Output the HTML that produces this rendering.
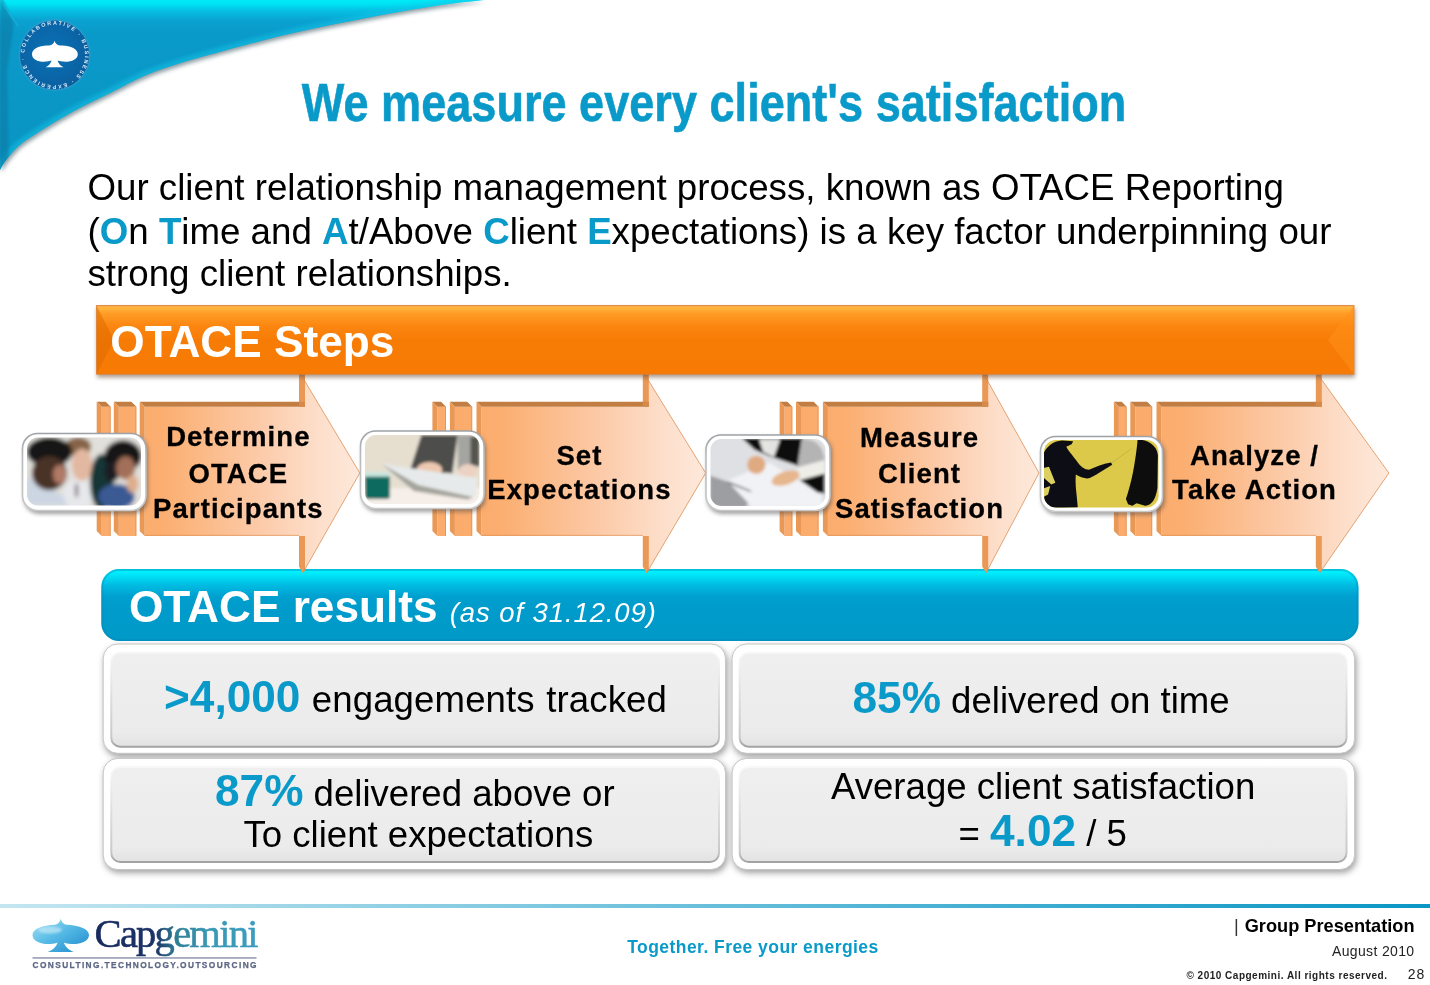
<!DOCTYPE html>
<html lang="en">
<head>
<meta charset="utf-8">
<title>We measure every client's satisfaction</title>
<style>
html,body{margin:0;padding:0;background:#fff;}
body{width:1430px;height:985px;overflow:hidden;position:relative;font-family:"Liberation Sans",sans-serif;color:#000;}
#slide{position:absolute;left:0;top:0;width:1430px;height:985px;overflow:hidden;background:#fff;}
#bg{position:absolute;left:0;top:0;}
.t{position:absolute;white-space:nowrap;line-height:1;}
.blue{color:#0a9ac9;font-weight:bold;}
#title{left:-1px;width:1430px;top:75px;text-align:center;font-size:54px;font-weight:bold;color:#0a9ac9;-webkit-text-stroke:.6px #0a9ac9;transform:scaleX(.8352);transform-origin:715px 0;}
.para{left:87.5px;font-size:36.7px;}
#steps{left:110.3px;top:320.1px;font-size:44.2px;font-weight:bold;color:#fff;}
.sl{-webkit-text-stroke:.3px #000;position:absolute;width:300px;margin-left:-150px;text-align:center;font-weight:bold;font-size:27.5px;line-height:1;letter-spacing:1.1px;padding-left:1.1px;white-space:nowrap;box-sizing:border-box;}
#res{left:129px;top:585px;font-size:44.2px;font-weight:bold;color:#fff;}
#resd{left:449.8px;top:599.3px;font-size:27.5px;font-style:italic;color:#fff;letter-spacing:.9px;}
.bx{position:absolute;font-size:36.6px;line-height:1;white-space:nowrap;}
.bx b{color:#0a9ac9;font-size:44.2px;}
</style>
</head>
<body>
<div id="slide">
<svg id="bg" width="1430" height="985" viewBox="0 0 1430 985">
<defs>
<linearGradient id="gSw" gradientUnits="userSpaceOnUse" x1="0" y1="0" x2="0" y2="170">
<stop offset="0" stop-color="#00eaf8"/><stop offset=".025" stop-color="#00e2f4"/><stop offset=".06" stop-color="#06c2e4"/><stop offset=".12" stop-color="#0aa2d0"/><stop offset=".2" stop-color="#0a9aca"/><stop offset="1" stop-color="#0a94c2"/>
</linearGradient>
<linearGradient id="gOr" x1="0" y1="0" x2="0" y2="1">
<stop offset="0" stop-color="#f6a24a"/><stop offset=".03" stop-color="#ffb640"/><stop offset=".12" stop-color="#ff9c26"/><stop offset=".3" stop-color="#fb8610"/><stop offset=".5" stop-color="#f77c06"/><stop offset="1" stop-color="#f67a04"/>
</linearGradient>
<linearGradient id="gAr" x1="0" y1="0" x2="1" y2="0">
<stop offset="0" stop-color="#f9a868"/><stop offset="1" stop-color="#fee6d4"/>
</linearGradient>
<linearGradient id="gBl" x1="0" y1="0" x2="0" y2="1">
<stop offset="0" stop-color="#00dff2"/><stop offset=".04" stop-color="#00f0ff"/><stop offset=".1" stop-color="#00e0f6"/><stop offset=".22" stop-color="#00bde2"/><stop offset=".38" stop-color="#00a0d0"/><stop offset=".5" stop-color="#009ccb"/><stop offset="1" stop-color="#0099c8"/>
</linearGradient>
<linearGradient id="gLine" x1="0" y1="0" x2="1" y2="0">
<stop offset="0" stop-color="#c4e6f1"/><stop offset="1" stop-color="#0a96c4"/>
</linearGradient>
<filter id="sh" x="-5%" y="-20%" width="110%" height="150%"><feGaussianBlur stdDeviation="2.5"/></filter>
<filter id="bl4"><feGaussianBlur stdDeviation="4"/></filter>
<filter id="bl1"><feGaussianBlur stdDeviation="1"/></filter>
<filter id="bl3" x="-5%" y="-20%" width="110%" height="150%"><feGaussianBlur stdDeviation="3"/></filter>
<filter id="bl2"><feGaussianBlur stdDeviation="2"/></filter>

<linearGradient id="gBox" x1="0" y1="0" x2="0" y2="1"><stop offset="0" stop-color="#efefef"/><stop offset=".85" stop-color="#ebebeb"/><stop offset="1" stop-color="#e2e2e2"/></linearGradient>
<radialGradient id="gEm" cx=".45" cy=".45" r=".62"><stop offset="0" stop-color="#0a72b4"/><stop offset=".6" stop-color="#0a66a8"/><stop offset=".9" stop-color="#0c5e9e"/><stop offset="1" stop-color="#2a88bc"/></radialGradient>
<linearGradient id="gSp" x1="0" y1="0" x2="1" y2="1"><stop offset="0" stop-color="#a8e0f4"/><stop offset=".45" stop-color="#58bce6"/><stop offset="1" stop-color="#1c88cc"/></linearGradient>
<linearGradient id="gCap" gradientUnits="userSpaceOnUse" x1="94" y1="0" x2="258" y2="0"><stop offset="0" stop-color="#172a5e"/><stop offset=".38" stop-color="#1c3468"/><stop offset=".5" stop-color="#2e7e96"/><stop offset=".7" stop-color="#3a98b4"/><stop offset="1" stop-color="#3a9cc0"/></linearGradient>
<filter id="blp" x="-5%" y="-5%" width="110%" height="110%"><feGaussianBlur stdDeviation="20"/></filter>
<filter id="blr" x="-5%" y="-5%" width="110%" height="110%"><feGaussianBlur stdDeviation="13"/></filter>
<filter id="blq" x="-5%" y="-5%" width="110%" height="110%"><feGaussianBlur stdDeviation="5"/></filter>
<linearGradient id="gBoxS" x1="0" y1="0" x2="0" y2="1"><stop offset="0" stop-color="#f8f8f8"/><stop offset=".5" stop-color="#dcdcdc"/><stop offset=".9" stop-color="#c8c8c8"/><stop offset="1" stop-color="#a2a2a2"/></linearGradient>
<linearGradient id="gPh" x1="0" y1="0" x2="0" y2="1"><stop offset="0" stop-color="#9ea2a6"/><stop offset=".3" stop-color="#b8babc"/><stop offset="1" stop-color="#c8c8c8"/></linearGradient>
</defs>

<!-- top-left swoosh -->
<path d="M0,170 C0.9,168.5 2.4,164.8 5.5,160.8 C8.6,156.8 13.1,150.8 18.3,146.2 C23.5,141.6 27.4,139.2 36.5,133.4 C45.6,127.6 60.8,118.2 73,111.5 C85.2,104.8 96.8,99.5 109.6,93.2 C122.4,86.9 133.3,80.0 150,73.5 C166.7,67.0 185.0,61.5 210,54.5 C235.0,47.5 270.0,38.3 300,31.5 C330.0,24.7 365.8,18.0 390,13.5 C414.2,9.0 429.3,6.8 445,4.5 C460.7,2.2 477.5,0.8 484,0 H0 Z" fill="#3c5864" opacity=".6" filter="url(#bl2)" transform="translate(1.5,2.5)"/>
<clipPath id="cpSw"><path d="M0,170 C0.9,168.5 2.4,164.8 5.5,160.8 C8.6,156.8 13.1,150.8 18.3,146.2 C23.5,141.6 27.4,139.2 36.5,133.4 C45.6,127.6 60.8,118.2 73,111.5 C85.2,104.8 96.8,99.5 109.6,93.2 C122.4,86.9 133.3,80.0 150,73.5 C166.7,67.0 185.0,61.5 210,54.5 C235.0,47.5 270.0,38.3 300,31.5 C330.0,24.7 365.8,18.0 390,13.5 C414.2,9.0 429.3,6.8 445,4.5 C460.7,2.2 477.5,0.8 484,0 H0 Z"/></clipPath>
<path d="M0,170 C0.9,168.5 2.4,164.8 5.5,160.8 C8.6,156.8 13.1,150.8 18.3,146.2 C23.5,141.6 27.4,139.2 36.5,133.4 C45.6,127.6 60.8,118.2 73,111.5 C85.2,104.8 96.8,99.5 109.6,93.2 C122.4,86.9 133.3,80.0 150,73.5 C166.7,67.0 185.0,61.5 210,54.5 C235.0,47.5 270.0,38.3 300,31.5 C330.0,24.7 365.8,18.0 390,13.5 C414.2,9.0 429.3,6.8 445,4.5 C460.7,2.2 477.5,0.8 484,0 H0 Z" fill="url(#gSw)"/>
<g clip-path="url(#cpSw)">
<path d="M0,170 C0.9,168.5 2.4,164.8 5.5,160.8 C8.6,156.8 13.1,150.8 18.3,146.2 C23.5,141.6 27.4,139.2 36.5,133.4 C45.6,127.6 60.8,118.2 73,111.5 C85.2,104.8 96.8,99.5 109.6,93.2 C122.4,86.9 133.3,80.0 150,73.5 C166.7,67.0 185.0,61.5 210,54.5 C235.0,47.5 270.0,38.3 300,31.5 C330.0,24.7 365.8,18.0 390,13.5 C414.2,9.0 429.3,6.8 445,4.5 C460.7,2.2 477.5,0.8 484,0" fill="none" stroke="#14c4e6" stroke-width="9" opacity=".55" filter="url(#bl2)"/>
<path d="M0,0 L3,0 L14,24 L7,70 L9,180 L0,180 Z" fill="#0a7aa4" opacity=".6" filter="url(#bl1)"/>
<path d="M0,0 L18,26" stroke="#26b4d8" stroke-width="1.2" opacity=".7"/>
</g>


<!-- blue results bar -->
<rect x="101.3" y="569" width="1257.2" height="72" rx="18" fill="url(#gBl)"/>
<rect x="102.3" y="570" width="1255.2" height="70" rx="17" fill="none" stroke="#0a86b4" stroke-width="2" opacity=".35"/>

<!--ARROWS-START-->
<g id="arrows">
<linearGradient id="ga0" gradientUnits="userSpaceOnUse" x1="96.7" y1="0" x2="359.8" y2="0"><stop offset="0" stop-color="#fbab6b"/><stop offset=".25" stop-color="#fbae70"/><stop offset=".6" stop-color="#fcc9a6"/><stop offset=".85" stop-color="#fddfcb"/><stop offset="1" stop-color="#fee9db"/></linearGradient>
<g><path d="M101.7,406.7 H110.7 V536 H101.7 Z" fill="url(#ga0)"/><path d="M96.7,401.7 H105.7 L110.7,406.7 H101.7 Z" fill="#c27e42"/><path d="M96.7,401.7 L101.7,406.7 V536 L96.7,531 Z" fill="#ea9856"/><rect x="109.7" y="406.7" width="1" height="129.3" fill="#d98a4e" opacity=".6"/><path d="M118.8,406.7 H136.4 V536 H118.8 Z" fill="url(#ga0)"/><path d="M113.8,401.7 H131.4 L136.4,406.7 H118.8 Z" fill="#c27e42"/><path d="M113.8,401.7 L118.8,406.7 V536 L113.8,531 Z" fill="#ea9856"/><rect x="135.4" y="406.7" width="1" height="129.3" fill="#d98a4e" opacity=".6"/><path d="M144.7,406.7 H304 V373 H300 L359.8,473.0 L302.8,573 L304,571 V536 H144.7 Z" fill="url(#ga0)"/><path d="M139.7,401.7 H305 V406.7 H144.7 Z" fill="#c27e42"/><path d="M139.7,401.7 L144.7,406.7 V536 L139.7,531 Z" fill="#ea9856"/><path d="M299,373 H305 V406.7 H299 Z" fill="#ea9856"/><path d="M299,401.7 H305 V406.7 H299 Z" fill="#c27e42" opacity=".55"/><path d="M299,536 H305 V570 L302.8,573 L299,566.5 Z" fill="#ea9856"/><rect x="144.7" y="534.8" width="154.3" height="1.2" fill="#d98a4e" opacity=".5"/><path d="M300,373 L359.8,473.0 L302.8,573" fill="none" stroke="#d98a4e" stroke-width="1" opacity=".75"/></g>
<linearGradient id="ga1" gradientUnits="userSpaceOnUse" x1="432.4" y1="0" x2="705.7" y2="0"><stop offset="0" stop-color="#fbab6b"/><stop offset=".25" stop-color="#fbae70"/><stop offset=".6" stop-color="#fcc9a6"/><stop offset=".85" stop-color="#fddfcb"/><stop offset="1" stop-color="#fee9db"/></linearGradient>
<g><path d="M437.4,406.7 H446 V536 H437.4 Z" fill="url(#ga1)"/><path d="M432.4,401.7 H441 L446,406.7 H437.4 Z" fill="#c27e42"/><path d="M432.4,401.7 L437.4,406.7 V536 L432.4,531 Z" fill="#ea9856"/><rect x="445.0" y="406.7" width="1" height="129.3" fill="#d98a4e" opacity=".6"/><path d="M454.9,406.7 H472.2 V536 H454.9 Z" fill="url(#ga1)"/><path d="M449.9,401.7 H467.2 L472.2,406.7 H454.9 Z" fill="#c27e42"/><path d="M449.9,401.7 L454.9,406.7 V536 L449.9,531 Z" fill="#ea9856"/><rect x="471.2" y="406.7" width="1" height="129.3" fill="#d98a4e" opacity=".6"/><path d="M481.5,406.7 H647.8 V373 H643.8 L705.7,473.0 L646.5999999999999,573 L647.8,571 V536 H481.5 Z" fill="url(#ga1)"/><path d="M476.5,401.7 H648.8 V406.7 H481.5 Z" fill="#c27e42"/><path d="M476.5,401.7 L481.5,406.7 V536 L476.5,531 Z" fill="#ea9856"/><path d="M642.8,373 H648.8 V406.7 H642.8 Z" fill="#ea9856"/><path d="M642.8,401.7 H648.8 V406.7 H642.8 Z" fill="#c27e42" opacity=".55"/><path d="M642.8,536 H648.8 V570 L646.5999999999999,573 L642.8,566.5 Z" fill="#ea9856"/><rect x="481.5" y="534.8" width="161.3" height="1.2" fill="#d98a4e" opacity=".5"/><path d="M643.8,373 L705.7,473.0 L646.5999999999999,573" fill="none" stroke="#d98a4e" stroke-width="1" opacity=".75"/></g>
<linearGradient id="ga2" gradientUnits="userSpaceOnUse" x1="779.6" y1="0" x2="1039" y2="0"><stop offset="0" stop-color="#fbab6b"/><stop offset=".25" stop-color="#fbae70"/><stop offset=".6" stop-color="#fcc9a6"/><stop offset=".85" stop-color="#fddfcb"/><stop offset="1" stop-color="#fee9db"/></linearGradient>
<g><path d="M784.6,406.7 H792.4 V536 H784.6 Z" fill="url(#ga2)"/><path d="M779.6,401.7 H787.4 L792.4,406.7 H784.6 Z" fill="#c27e42"/><path d="M779.6,401.7 L784.6,406.7 V536 L779.6,531 Z" fill="#ea9856"/><rect x="791.4" y="406.7" width="1" height="129.3" fill="#d98a4e" opacity=".6"/><path d="M801,406.7 H818.6 V536 H801 Z" fill="url(#ga2)"/><path d="M796,401.7 H813.6 L818.6,406.7 H801 Z" fill="#c27e42"/><path d="M796,401.7 L801,406.7 V536 L796,531 Z" fill="#ea9856"/><rect x="817.6" y="406.7" width="1" height="129.3" fill="#d98a4e" opacity=".6"/><path d="M827.9,406.7 H987.2 V373 H983.2 L1039,473.0 L986.0,573 L987.2,571 V536 H827.9 Z" fill="url(#ga2)"/><path d="M822.9,401.7 H988.2 V406.7 H827.9 Z" fill="#c27e42"/><path d="M822.9,401.7 L827.9,406.7 V536 L822.9,531 Z" fill="#ea9856"/><path d="M982.2,373 H988.2 V406.7 H982.2 Z" fill="#ea9856"/><path d="M982.2,401.7 H988.2 V406.7 H982.2 Z" fill="#c27e42" opacity=".55"/><path d="M982.2,536 H988.2 V570 L986.0,573 L982.2,566.5 Z" fill="#ea9856"/><rect x="827.9" y="534.8" width="154.3" height="1.2" fill="#d98a4e" opacity=".5"/><path d="M983.2,373 L1039,473.0 L986.0,573" fill="none" stroke="#d98a4e" stroke-width="1" opacity=".75"/></g>
<linearGradient id="ga3" gradientUnits="userSpaceOnUse" x1="1113.9" y1="0" x2="1388.9" y2="0"><stop offset="0" stop-color="#fbab6b"/><stop offset=".25" stop-color="#fbae70"/><stop offset=".6" stop-color="#fcc9a6"/><stop offset=".85" stop-color="#fddfcb"/><stop offset="1" stop-color="#fee9db"/></linearGradient>
<g><path d="M1118.9,406.7 H1126.7 V536 H1118.9 Z" fill="url(#ga3)"/><path d="M1113.9,401.7 H1121.7 L1126.7,406.7 H1118.9 Z" fill="#c27e42"/><path d="M1113.9,401.7 L1118.9,406.7 V536 L1113.9,531 Z" fill="#ea9856"/><rect x="1125.7" y="406.7" width="1" height="129.3" fill="#d98a4e" opacity=".6"/><path d="M1135.3,406.7 H1152.2 V536 H1135.3 Z" fill="url(#ga3)"/><path d="M1130.3,401.7 H1147.2 L1152.2,406.7 H1135.3 Z" fill="#c27e42"/><path d="M1130.3,401.7 L1135.3,406.7 V536 L1130.3,531 Z" fill="#ea9856"/><rect x="1151.2" y="406.7" width="1" height="129.3" fill="#d98a4e" opacity=".6"/><path d="M1161.5,406.7 H1320.8 V373 H1316.8 L1388.9,473.0 L1319.6,573 L1320.8,571 V536 H1161.5 Z" fill="url(#ga3)"/><path d="M1156.5,401.7 H1321.8 V406.7 H1161.5 Z" fill="#c27e42"/><path d="M1156.5,401.7 L1161.5,406.7 V536 L1156.5,531 Z" fill="#ea9856"/><path d="M1315.8,373 H1321.8 V406.7 H1315.8 Z" fill="#ea9856"/><path d="M1315.8,401.7 H1321.8 V406.7 H1315.8 Z" fill="#c27e42" opacity=".55"/><path d="M1315.8,536 H1321.8 V570 L1319.6,573 L1315.8,566.5 Z" fill="#ea9856"/><rect x="1161.5" y="534.8" width="154.3" height="1.2" fill="#d98a4e" opacity=".5"/><path d="M1316.8,373 L1388.9,473.0 L1319.6,573" fill="none" stroke="#d98a4e" stroke-width="1" opacity=".75"/></g>
</g>
<!--ARROWS-END-->

<!-- orange bar -->
<rect x="97" y="308" width="1258" height="69.5" fill="#6a4a30" opacity=".55" filter="url(#bl2)"/>
<rect x="96.5" y="305.5" width="1257.5" height="68.7" fill="url(#gOr)"/>
<path d="M96.5,305.5 L114,340 L96.5,374.2 Z" fill="#e06c00" opacity=".55"/>
<path d="M1354,305.5 L1328,340 L1354,374.2 Z" fill="#ff9018" opacity=".55"/>
<rect x="96.5" y="305.5" width="1257.5" height="68.7" fill="none" stroke="#d98238" stroke-width="1" opacity=".8"/>



<!-- result boxes -->
<g id="boxes">
<g filter="url(#bl3)" opacity=".5" fill="#444">
<rect x="104.2" y="646.5" width="623.3" height="110.3" rx="15"/>
<rect x="733.1" y="646.5" width="623.5" height="110.3" rx="15"/>
<rect x="104.2" y="760.9" width="623.3" height="112.1" rx="15"/>
<rect x="733.1" y="760.9" width="623.5" height="112.1" rx="15"/>
</g>
<g fill="#fff" stroke="#c6c6c6" stroke-width="1">
<rect x="103.2" y="644.0" width="622.3" height="109.3" rx="14.5"/>
<rect x="732.1" y="644.0" width="622.5" height="109.3" rx="14.5"/>
<rect x="103.2" y="758.4" width="622.3" height="111.1" rx="14.5"/>
<rect x="732.1" y="758.4" width="622.5" height="111.1" rx="14.5"/>
</g>
<g fill="url(#gBox)" stroke="url(#gBoxS)" stroke-width="2">
<rect x="111.3" y="652.6" width="607.7" height="94.1" rx="9"/>
<rect x="739.7" y="652.8" width="606.8" height="93.9" rx="9"/>
<rect x="111.3" y="767.0" width="607.7" height="95.0" rx="9"/>
<rect x="739.7" y="767.0" width="606.8" height="95.0" rx="9"/>
</g>
</g>

<!-- photos -->
<g id="photos">
<!-- photo 1 -->
<rect x="24" y="436" width="124" height="78" rx="15" fill="#444" opacity=".5" filter="url(#bl2)"/>
<rect x="22.5" y="433.5" width="123.5" height="77" rx="15" fill="#fff" stroke="url(#gPh)" stroke-width="1.6"/>
<clipPath id="cp1"><rect x="27" y="437.5" width="114" height="68" rx="11"/></clipPath>
<g clip-path="url(#cp1)"><g transform="translate(10,420) scale(.1066)" filter="url(#blp)">
<rect x="100" y="100" width="1250" height="800" fill="#e2e0dc"/>
<path d="M150,540 L330,600 L620,800 L150,800Z" fill="#ccd6e2"/>
<ellipse cx="640" cy="700" rx="140" ry="140" fill="#e6e8ec"/>
<ellipse cx="860" cy="580" rx="110" ry="260" fill="#163436"/>
<ellipse cx="640" cy="250" rx="120" ry="90" fill="#866446"/>
<ellipse cx="675" cy="420" rx="95" ry="150" fill="#e2b8a0"/>
<ellipse cx="370" cy="300" rx="215" ry="140" fill="#121214"/>
<ellipse cx="370" cy="500" rx="165" ry="160" fill="#4a3028"/>
<ellipse cx="465" cy="510" rx="62" ry="90" fill="#b07a66"/>
<ellipse cx="1060" cy="340" rx="175" ry="150" fill="#151218"/>
<ellipse cx="960" cy="480" rx="70" ry="100" fill="#1a1a20"/>
<ellipse cx="1085" cy="450" rx="90" ry="110" fill="#a27058"/>
<ellipse cx="1000" cy="720" rx="170" ry="120" fill="#3a5a94"/>
<ellipse cx="1150" cy="600" rx="55" ry="85" fill="#deae8c"/>
<ellipse cx="625" cy="660" rx="12" ry="70" fill="#4c2c3a"/>
</g></g>
<!-- photo 2 -->
<rect x="362" y="434" width="124" height="78" rx="15" fill="#444" opacity=".5" filter="url(#bl2)"/>
<rect x="360.5" y="431" width="123.5" height="77.5" rx="15" fill="#fff" stroke="url(#gPh)" stroke-width="1.6"/>
<clipPath id="cp2"><rect x="365" y="435" width="114.5" height="69" rx="11"/></clipPath>
<g clip-path="url(#cp2)"><g transform="translate(350,420) scale(.1066)" filter="url(#blr)">
<rect x="100" y="100" width="1250" height="800" fill="#e6dfd0"/>
<rect x="100" y="640" width="1250" height="260" fill="#f6eee8"/>
<path d="M670,140 H1010 L960,500 L560,480 Z" fill="#4e4e4c"/>
<path d="M1010,140 H1210 V440 L1010,470 Z" fill="#a4a4a0"/>
<path d="M1130,160 H1215 V430 L1130,430 Z" fill="#55554f"/>
<ellipse cx="745" cy="465" rx="120" ry="72" fill="#eec8b0"/>
<ellipse cx="1110" cy="475" rx="92" ry="62" fill="#ecd2c2"/>
<path d="M290,405 L420,430 L1190,545 L1190,715 L800,700 L560,640 Z" fill="#e6eaea"/>
<path d="M295,410 L640,610 L1160,725 L1100,745 L600,665 Z" fill="#a4a49c"/>
<rect x="140" y="505" width="235" height="235" rx="30" fill="#076a5e"/>
<rect x="140" y="490" width="235" height="42" fill="#c9e6de"/>
</g></g>
<!-- photo 3 -->
<rect x="707" y="437" width="125" height="77" rx="15" fill="#444" opacity=".5" filter="url(#bl2)"/>
<rect x="706" y="435" width="124" height="75.5" rx="15" fill="#fff" stroke="url(#gPh)" stroke-width="1.6"/>
<clipPath id="cp3"><rect x="710.5" y="439" width="115" height="67" rx="11"/></clipPath>
<g clip-path="url(#cp3)"><g transform="translate(695,420) scale(.1066)" filter="url(#blr)">
<rect x="100" y="100" width="1250" height="800" fill="#dfe0e3"/>
<path d="M140,520 L540,660 L480,820 L140,820 Z" fill="#9c9ea2"/>
<path d="M300,570 L700,400 L1180,690 L1210,820 L540,820 Z" fill="#f1f2f5"/>
<path d="M440,170 H1010 L1000,440 L700,340 L560,280 Z" fill="#0e0e0e"/>
<path d="M600,180 L800,180 L740,350 L640,300 Z" fill="#e4e4e2"/>
<path d="M1000,180 Q1200,170 1215,380 L1210,520 L980,560 L960,440 Z" fill="#b4b4b4"/>
<path d="M955,445 L1215,375 L1215,500 L985,565 Z" fill="#eeede8"/>
<path d="M985,565 L1215,505 L1215,690 L1150,680 Z" fill="#0c0c0c"/>
<ellipse cx="575" cy="420" rx="85" ry="85" fill="#e0aa80"/>
<ellipse cx="850" cy="545" rx="135" ry="62" fill="#e6b68c" transform="rotate(-18 850 545)"/>
<path d="M310,575 L520,660 L530,680 L300,590 Z" fill="#7c7e82"/>
</g></g>
<!-- photo 4 -->
<rect x="1042" y="439" width="123" height="76" rx="15" fill="#444" opacity=".5" filter="url(#bl2)"/>
<rect x="1040.5" y="436.5" width="122" height="75" rx="15" fill="#fff" stroke="url(#gPh)" stroke-width="1.6"/>
<clipPath id="cp4"><rect x="1044" y="440" width="114.5" height="67.5" rx="12"/></clipPath>
<g clip-path="url(#cp4)"><g transform="translate(1030,420) scale(.1066)">
<rect x="100" y="100" width="1250" height="800" fill="#dcc94a"/>
<g filter="url(#blq)">
<path d="M1010,180 C1100,185 1190,230 1200,330 L1195,640 C1180,730 1150,800 1080,805 L1000,780 L960,805 L920,790 L900,740 C950,600 990,400 1010,180 Z" fill="#0b0a10"/>
<path d="M120,330 C150,250 220,196 300,192 L405,200 L390,228 L340,250 C360,290 400,330 450,400 C480,440 520,470 560,465 C620,440 680,410 760,398 L772,420 C720,450 650,500 560,545 C520,555 470,535 430,512 C420,600 440,700 448,820 L180,830 C140,790 120,750 120,700 Z" fill="#0a0a12"/>
<path d="M125,450 L178,438 L238,588 L200,604 L125,540 Z" fill="#dcd060"/>
<path d="M130,640 L190,620 L170,700 L130,720 Z" fill="#dcd060"/>
<path d="M770,400 L950,270" stroke="#c8b040" stroke-width="8"/>
</g>
</g></g>
</g>

<!-- emblem -->
<g id="emblem">
<circle cx="54.6" cy="55" r="36" fill="#3c9ccc" opacity=".6"/>
<circle cx="54.6" cy="55" r="34.6" fill="url(#gEm)"/>
<path id="emc" d="M54.6,55 m-30.3,0 a30.3,30.3 0 1,1 60.6,0 a30.3,30.3 0 1,1 -60.6,0" fill="none"/>
<text font-family="'Liberation Sans',sans-serif" font-size="5.4" font-weight="bold" fill="#d6ecf8" letter-spacing="1.05"><textPath href="#emc" startOffset="2" textLength="186" lengthAdjust="spacing">COLLABORATIVE · BUSINESS · EXPERIENCE ·</textPath></text>
<path d="M54.6,40.4 C55,43.4 57,45.2 62,45.6 C71,46 77.8,49.2 77.8,54.2 C77.8,59.6 70.5,62.4 62.5,61.6 C60.2,61.4 58.6,61 57.6,60.6 C58.4,63.6 60.4,65.8 63.6,67.2 L45.6,67.2 C48.8,65.8 50.8,63.6 51.6,60.6 C50.6,61 49,61.4 46.7,61.6 C38.7,62.4 32,59.6 32,54.2 C32,49.2 38.2,46 47.2,45.6 C52.2,45.2 54.2,43.4 54.6,40.4 Z" fill="#fff"/>
</g>

<!-- Capgemini logo -->
<g id="logo">
<path d="M60.8,918.5 C61.2,921.5 63,924 67,924.8 C78,925.5 89,928.5 89,935 C89,941.5 80,944.5 71,944 C68,943.8 65.5,943.2 64,942.5 C65,946.5 68.5,950 74,952 L47.5,952 C53,950 56.5,946.5 57.5,942.5 C56,943.2 53.5,943.8 50.5,944 C41.5,944.5 32.5,941.5 32.5,935 C32.5,928.5 43.5,925.5 54.5,924.8 C58.5,924 60.4,921.5 60.8,918.5 Z" fill="url(#gSp)"/>
<ellipse cx="50" cy="930" rx="12" ry="3.4" fill="#d8f2fb" opacity=".55" filter="url(#bl1)"/>
<text x="94.6" y="947.3" font-family="'Liberation Serif',serif" font-size="40.6" letter-spacing="-1.78" fill="url(#gCap)" stroke="url(#gCap)" stroke-width=".55">Capgemini</text>
<rect x="32.5" y="957.3" width="224" height="1.3" fill="#7f88a2"/>
<text x="32.5" y="967.6" font-family="'Liberation Sans',sans-serif" font-size="8.3" font-weight="bold" fill="#5c6684" stroke="#5c6684" stroke-width=".25" textLength="224" lengthAdjust="spacing">CONSULTING.TECHNOLOGY.OUTSOURCING</text>
</g>

<!-- footer line -->
<rect x="0" y="904" width="1430" height="4" fill="url(#gLine)"/>
</svg>

<div class="t" id="title">We measure every client's satisfaction</div>
<div class="t para" style="top:169.5px">Our client relationship management process, known as OTACE Reporting</div>
<div class="t para" style="top:214.1px">(<span class="blue">O</span>n <span class="blue">T</span>ime and <span class="blue">A</span>t/Above <span class="blue">C</span>lient <span class="blue">E</span>xpectations) is a key factor underpinning our</div>
<div class="t para" style="top:256.4px">strong client relationships.</div>
<div class="t" id="steps">OTACE Steps</div>
<div class="t" id="res">OTACE results</div>
<div class="t" id="resd">(as of 31.12.09)</div>

<div class="sl" style="left:237.8px;top:423.3px;">Determine</div>
<div class="sl" style="left:237.8px;top:459.5px;">OTACE</div>
<div class="sl" style="left:237.8px;top:494.9px;">Participants</div>
<div class="sl" style="left:578.9px;top:441.7px;">Set</div>
<div class="sl" style="left:578.9px;top:476.2px;">Expectations</div>
<div class="sl" style="left:919px;top:423.5px;">Measure</div>
<div class="sl" style="left:919px;top:459.7px;">Client</div>
<div class="sl" style="left:919px;top:494.9px;">Satisfaction</div>
<div class="sl" style="left:1254px;top:441.6px;">Analyze /</div>
<div class="sl" style="left:1254px;top:476.3px;">Take Action</div>
<div class="bx" style="left:164px;top:675.2px;word-spacing:1.2px;"><b>&gt;4,000</b> <span style="letter-spacing:.12px">engagements tracked</span></div>
<div class="bx" style="left:852.5px;top:675.6px;"><b>85%</b> delivered on time</div>
<div class="bx" style="left:215px;top:769.1px;"><b>87%</b> delivered above or</div>
<div class="bx" style="left:243.5px;top:816.5px;">To client expectations</div>
<div class="bx" style="left:831px;top:768.8px;">Average client satisfaction</div>
<div class="bx" style="left:958.5px;top:809.1px;">= <b>4.02</b> / 5</div>
<div class="t" id="tag" style="left:627.2px;top:939px;font-size:17.5px;font-weight:bold;color:#0a9ac9;letter-spacing:.45px;">Together. Free your energies</div>
<div class="t" id="gp" style="right:15.5px;top:916.9px;font-size:18.2px;font-weight:bold;"><span style="font-weight:normal;color:#333;margin-right:1px">|</span> Group Presentation</div>
<div class="t" id="dt" style="right:15.5px;top:944px;font-size:14px;color:#222;letter-spacing:.35px;">August 2010</div>
<div class="t" id="cr" style="right:42.5px;top:971px;font-size:10px;font-weight:bold;letter-spacing:.5px;color:#222;">© 2010 Capgemini. All rights reserved.</div>
<div class="t" id="pn" style="right:5px;top:967.1px;font-size:14px;color:#222;letter-spacing:.8px;">28</div>
</div>
</body>
</html>
